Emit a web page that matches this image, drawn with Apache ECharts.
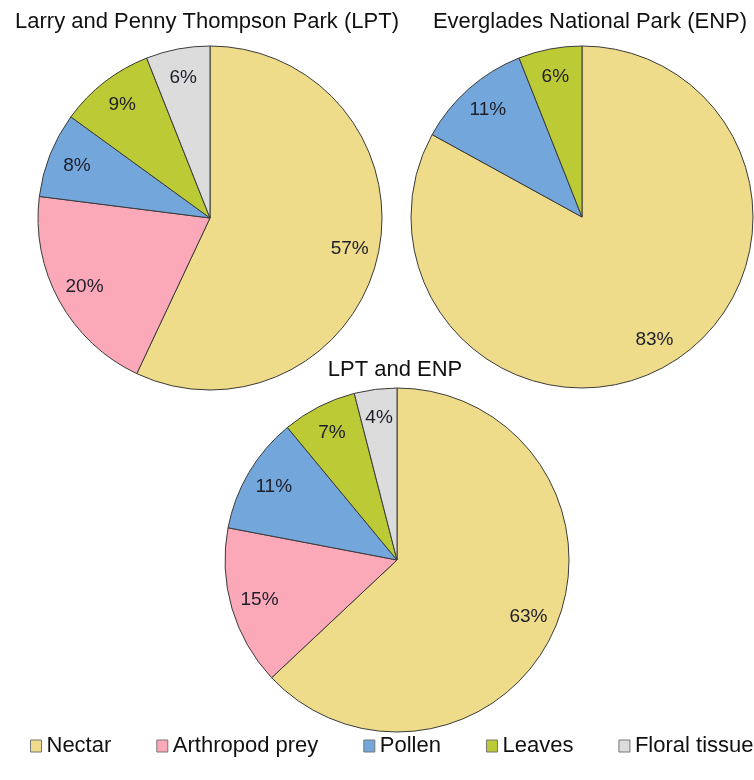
<!DOCTYPE html>
<html><head><meta charset="utf-8">
<script src="https://cdn.jsdelivr.net/npm/echarts@6/dist/echarts.min.js"></script>
<style>html,body{margin:0;padding:0;background:#fff}#c{width:754px;height:780px}</style>
</head><body><div id="c"></div>
<script>
const categories = ['Nectar', 'Arthropod prey', 'Pollen', 'Leaves', 'Floral tissue'];
const colors = ['#EEDC8A', '#FBA9B9', '#73A7DB', '#BCCB35', '#DCDCDC'];
const lptValues = [57, 20, 8, 9, 6];
const enpValues = [83, 0, 11, 6, 0];
const bothValues = [63, 15, 11, 7, 4];
const titles = ['Larry and Penny Thompson Park (LPT)', 'Everglades National Park (ENP)', 'LPT and ENP'];

const chart = echarts.init(document.getElementById('c'), null, {renderer: 'canvas'});
const FONT = '"Liberation Sans", Arial, sans-serif';

function toData(vals) {
  return vals.map((v, i) => ({name: categories[i], value: v, itemStyle: {color: colors[i]}}))
             .filter(d => d.value > 0);
}
function pies(vals, center, r) {
  return [
    {
      type: 'pie', center: center, radius: [0, r], startAngle: 90, clockwise: true,
      data: toData(vals), label: {show: false}, labelLine: {show: false},
      itemStyle: {borderColor: '#3a3a3a', borderWidth: 1},
      emphasis: {disabled: true}, silent: true, animation: false
    },
    {
      type: 'pie', center: center, radius: [r * 0.63, r], startAngle: 90, clockwise: true,
      data: toData(vals).map(d => ({name: d.name, value: d.value})),
      itemStyle: {color: 'rgba(0,0,0,0)', borderWidth: 0},
      label: {show: true, position: 'inside', formatter: p => p.value + '%',
              color: '#1e1e2a', fontSize: 19, fontFamily: FONT},
      labelLine: {show: false}, emphasis: {disabled: true}, silent: true, animation: false
    }
  ];
}

const option = {
  animation: false,
  title: [
    {text: titles[0], left: 207, top: 11, textAlign: 'center', padding: 0,
     textStyle: {fontSize: 22, fontWeight: 'normal', color: '#111', fontFamily: FONT, lineHeight: 22}},
    {text: titles[1], left: 590, top: 11, textAlign: 'center', padding: 0,
     textStyle: {fontSize: 22, fontWeight: 'normal', color: '#111', fontFamily: FONT, lineHeight: 22}},
    {text: titles[2], left: 395, top: 359, textAlign: 'center', padding: 0,
     textStyle: {fontSize: 22, fontWeight: 'normal', color: '#111', fontFamily: FONT, lineHeight: 22}}
  ],
  legend: {
    left: 30, top: 735, padding: 0, orient: 'horizontal',
    itemWidth: 11, itemHeight: 12, itemGap: 45, icon: 'rect',
    selectedMode: false,
    data: categories.map((n, i) => ({name: n, itemStyle: {color: colors[i], borderColor: '#777', borderWidth: 1}})),
    textStyle: {fontSize: 22, color: '#111', fontFamily: FONT}
  },
  series: [].concat(
    pies(lptValues, [210, 218], 172),
    pies(enpValues, [582, 217], 171),
    pies(bothValues, [397, 560], 172)
  )
};
chart.setOption(option);
</script></body></html>
